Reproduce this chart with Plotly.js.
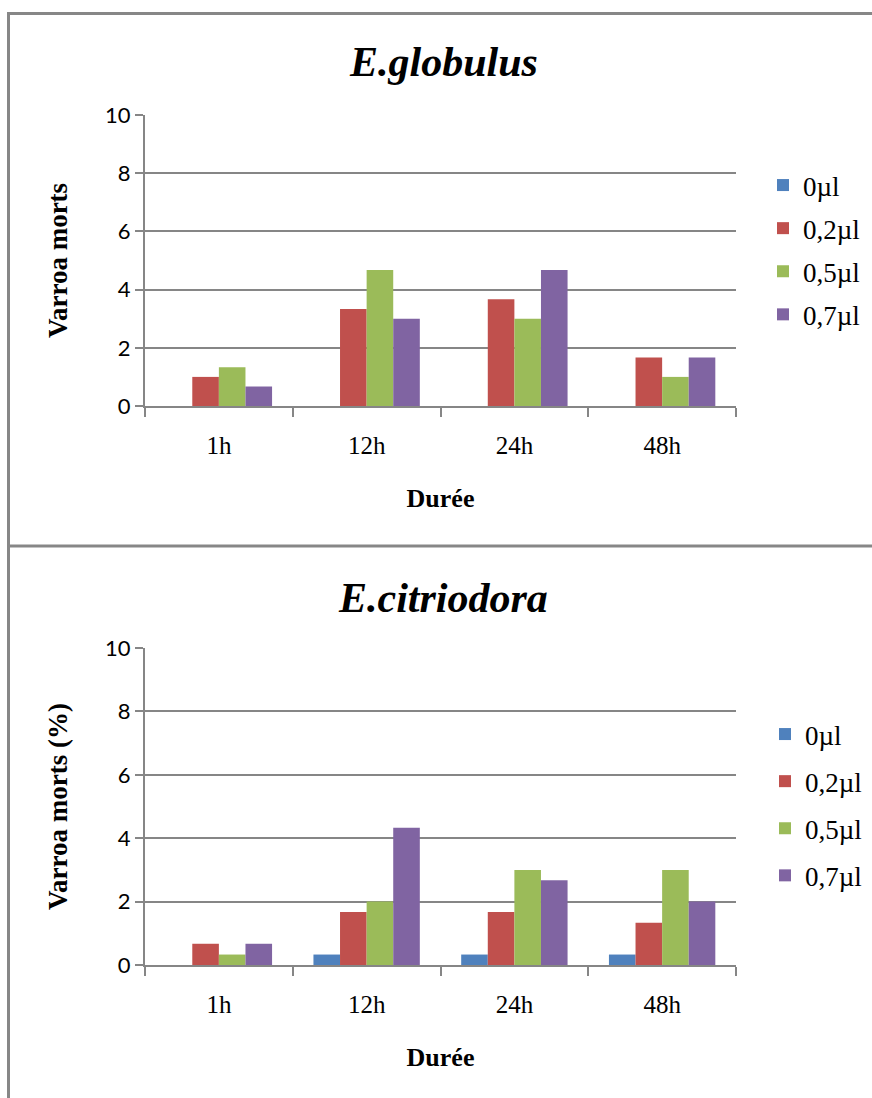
<!DOCTYPE html>
<html>
<head>
<meta charset="utf-8">
<script src="https://cdn.plot.ly/plotly-3.0.1.min.js"></script>
<style>
  html, body { margin: 0; padding: 0; background: #ffffff; }
  #chart { width: 872px; height: 1098px; }
</style>
</head>
<body>
<div id="chart"></div>
<script>
// ---- Data ----
const categories = ['1h', '12h', '24h', '48h'];
const seriesNames = ['0µl', '0,2µl', '0,5µl', '0,7µl'];
const seriesColors = ['#4F81BD', '#C0504D', '#9BBB59', '#8064A2'];

// E.globulus
const globulus_0 = [0, 0, 0, 0];
const globulus_02 = [1.0, 3.33, 3.67, 1.67];
const globulus_05 = [1.33, 4.67, 3.0, 1.0];
const globulus_07 = [0.67, 3.0, 4.67, 1.67];

// E.citriodora
const citriodora_0 = [0, 0.33, 0.33, 0.33];
const citriodora_02 = [0.67, 1.67, 1.67, 1.33];
const citriodora_05 = [0.33, 2.0, 3.0, 3.0];
const citriodora_07 = [0.67, 4.33, 2.67, 2.0];

const titleTop = 'E.globulus';
const titleBottom = 'E.citriodora';
const xTitle = 'Durée';
const yTitleTop = 'Varroa morts';
const yTitleBottom = 'Varroa morts (%)';

// ---- Build ----
const W = 872, H = 1098;
const px = v => v / W;
const py = v => 1 - v / H;

const globSeries = [globulus_0, globulus_02, globulus_05, globulus_07];
const citSeries = [citriodora_0, citriodora_02, citriodora_05, citriodora_07];

const traces = [];
globSeries.forEach((vals, i) => {
  traces.push({
    type: 'bar', x: categories, y: vals, name: seriesNames[i],
    marker: { color: seriesColors[i], line: { width: 0 } },
    xaxis: 'x', yaxis: 'y', legend: 'legend', legendgroup: 'g' + i,
    hoverinfo: 'x+y+name'
  });
});
citSeries.forEach((vals, i) => {
  traces.push({
    type: 'bar', x: categories, y: vals, name: seriesNames[i],
    marker: { color: seriesColors[i], line: { width: 0 } },
    xaxis: 'x2', yaxis: 'y2', legend: 'legend2', legendgroup: 'c' + i,
    hoverinfo: 'x+y+name'
  });
});

const gray = '#868686';
const serif = 'Liberation Serif, Times New Roman, serif';
const sans = 'Lato, Carlito, Calibri, sans-serif';

function xaxisDef() {
  return {
    domain: [px(145), px(736)],
    type: 'category',
    showline: true, linecolor: gray, linewidth: 2,
    ticks: 'outside', tickson: 'boundaries', ticklen: 9, tickwidth: 2, tickcolor: gray,
    ticklabelstandoff: 16,
    tickfont: { family: serif, size: 25, color: '#000' },
    showgrid: false, zeroline: false, fixedrange: true,
    title: { text: xTitle, standoff: 31, font: { family: serif, size: 26, color: '#000', weight: 'bold' } }
  };
}
function yaxisDef(domain, title, anchorX) {
  return {
    domain: domain, range: [0, 10], dtick: 2, tick0: 0,
    showline: true, linecolor: gray, linewidth: 2,
    ticks: 'outside', ticklen: 8, tickwidth: 2, tickcolor: gray,
    showgrid: true, gridcolor: gray, gridwidth: 2,
    zeroline: false, fixedrange: true,
    tickfont: { family: sans, size: 22, color: '#000' },
    title: { text: title, standoff: 30, font: { family: serif, size: 27, color: '#000', weight: 'bold' } },
    anchor: anchorX
  };
}

const layout = {
  width: W, height: H,
  margin: { l: 0, r: 0, t: 0, b: 0 },
  paper_bgcolor: '#ffffff', plot_bgcolor: '#ffffff',
  barmode: 'group', bargap: 0.28, bargroupgap: 0,
  showlegend: true,
  xaxis: Object.assign(xaxisDef(), { anchor: 'y' }),
  yaxis: yaxisDef([py(406), py(115)], yTitleTop, 'x'),
  xaxis2: Object.assign(xaxisDef(), { anchor: 'y2' }),
  yaxis2: yaxisDef([py(965), py(648)], yTitleBottom, 'x2'),
  legend: {
    x: px(763), y: py(161), xanchor: 'left', yanchor: 'top',
    font: { family: serif, size: 27, color: '#000' },
    traceorder: 'grouped', tracegroupgap: 5, itemwidth: 30,
    bgcolor: 'rgba(0,0,0,0)'
  },
  legend2: {
    x: px(765), y: py(710), xanchor: 'left', yanchor: 'top',
    font: { family: serif, size: 27, color: '#000' },
    traceorder: 'grouped', tracegroupgap: 9, itemwidth: 30,
    bgcolor: 'rgba(0,0,0,0)'
  },
  annotations: [
    { text: titleTop, xref: 'paper', yref: 'paper', x: px(443), y: py(62),
      xanchor: 'center', yanchor: 'middle', showarrow: false,
      font: { family: serif, size: 42, color: '#000', weight: 'bold', style: 'italic' } },
    { text: titleBottom, xref: 'paper', yref: 'paper', x: px(443), y: py(598),
      xanchor: 'center', yanchor: 'middle', showarrow: false,
      font: { family: serif, size: 42, color: '#000', weight: 'bold', style: 'italic' } }
  ],
  shapes: [
    { type: 'line', xref: 'paper', yref: 'paper', x0: px(8.5), x1: 1, y0: py(13.5), y1: py(13.5), line: { color: '#878787', width: 3 } },
    { type: 'line', xref: 'paper', yref: 'paper', x0: px(8.5), x1: px(8.5), y0: py(12), y1: 0, line: { color: '#878787', width: 3 } },
    { type: 'line', xref: 'paper', yref: 'paper', x0: px(8.5), x1: 1, y0: py(546), y1: py(546), line: { color: '#878787', width: 3 } }
  ]
};

Plotly.newPlot('chart', traces, layout, { displayModeBar: false, staticPlot: true });
</script>
</body>
</html>
